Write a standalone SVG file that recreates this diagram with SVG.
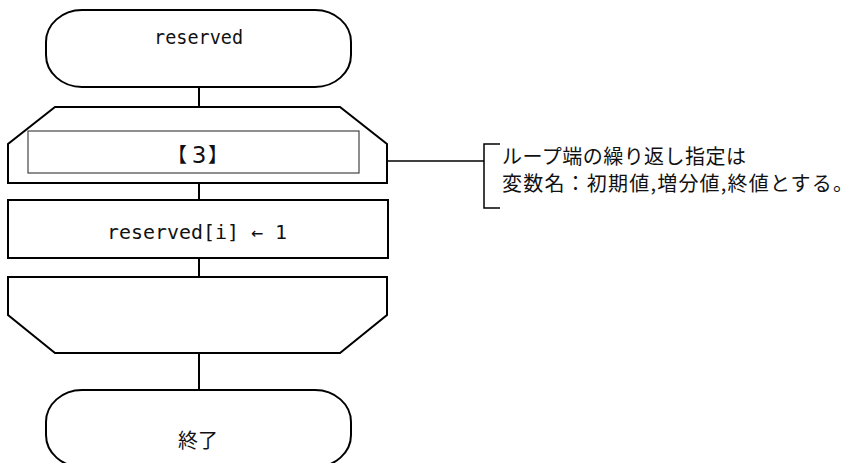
<svg xmlns="http://www.w3.org/2000/svg" width="859" height="463" viewBox="0 0 859 463">
  <style>
    .shape { fill: #fff; stroke: #000; stroke-width: 2; }
    .inner { fill: #fff; stroke: #444; stroke-width: 1.2; }
    .edge { fill: none; stroke: #000; stroke-width: 2; }
    .note { fill: none; stroke: #000; stroke-width: 1.5; }
    .mono { font-family: "DejaVu Sans Mono", "Liberation Mono", monospace; font-size: 20px; fill: #111; }
    .jp { font-family: "Noto Sans CJK JP", "Noto Sans", sans-serif; font-size: 20px; fill: #111; }
    .mid { text-anchor: middle; }
  </style>

  <!-- connectors -->
  <g id="connectors">
    <line class="edge" x1="199" y1="87" x2="199" y2="107"/>
    <line class="edge" x1="199" y1="183" x2="199" y2="200"/>
    <line class="edge" x1="199" y1="258" x2="199" y2="277"/>
    <line class="edge" x1="199" y1="353" x2="199" y2="390"/>
    <line class="note" x1="388" y1="161" x2="484" y2="161"/>
  </g>

  <!-- start terminal -->
  <g id="start">
    <rect class="shape" x="46" y="10" width="305" height="77" rx="36" ry="32"/>
    <text class="mono" x="154" y="44" textLength="89" lengthAdjust="spacingAndGlyphs">reserved</text>
  </g>

  <!-- loop start -->
  <g id="loop-start">
    <polygon class="shape" points="55,107 340,107 387,144 387,183 8,183 8,144"/>
    <rect class="inner" x="28" y="131" width="331" height="42"/>
    <text class="jp" x="167" y="162" font-size="23">【</text>
    <text x="199" y="163" font-family="DejaVu Sans, sans-serif" font-size="23" fill="#111" text-anchor="middle">3</text>
    <text class="jp" x="208" y="162" font-size="23">】</text>
  </g>

  <!-- assignment -->
  <g id="assign">
    <rect class="shape" x="8" y="200" width="380" height="58"/>
    <text class="mono" x="107" y="239" textLength="180" lengthAdjust="spacingAndGlyphs">reserved[i] ← 1</text>
  </g>

  <!-- loop end -->
  <g id="loop-end">
    <polygon class="shape" points="8,277 387,277 387,315 340,353 55,353 8,315"/>
  </g>

  <!-- end terminal -->
  <g id="end">
    <rect class="shape" x="46" y="390" width="305" height="77" rx="36" ry="32"/>
    <text class="jp mid" x="198" y="448">終了</text>
  </g>

  <!-- annotation -->
  <g id="annotation">
    <polyline class="note" points="500,144 484,144 484,208 500,208"/>
    <text class="jp" x="502" y="164" font-size="17" textLength="244" lengthAdjust="spacing">ループ端の繰り返し指定は</text>
    <text class="jp" x="502" y="191" font-size="17" textLength="351" lengthAdjust="spacing">変数名：初期値,増分値,終値とする。</text>
  </g>
</svg>
